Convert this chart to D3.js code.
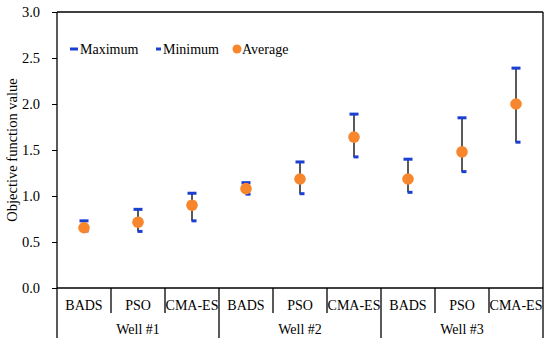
<!DOCTYPE html>
<html><head><meta charset="utf-8">
<script src="https://cdn.jsdelivr.net/npm/d3@7"></script>
<style>body{margin:0;background:#fff}svg{display:block}</style>
</head><body><svg id="c" width="550" height="348"></svg>
<script>
const wells = ["Well #1","Well #2","Well #3"];
const methods = ["BADS","PSO","CMA-ES"];
const maxVals = [0.73,0.855,1.03, 1.145,1.37,1.89, 1.40,1.85,2.39];
const minVals = [0.62,0.615,0.73, 1.02,1.025,1.425, 1.04,1.265,1.585];
const avgVals = [0.655,0.715,0.90, 1.08,1.185,1.64, 1.185,1.48,2.0];
const yTicks = [0,0.5,1,1.5,2,2.5,3];

const FONT = "Liberation Serif";
const svg = d3.select("#c");
const L=57, R=543, T=12, B=288;
const cats = [];
wells.forEach(w=>methods.forEach(m=>cats.push(w+"|"+m)));
const x = d3.scaleBand().domain(cats).range([L,R]);
const y = d3.scaleLinear().domain([0,3]).range([B,T]);
const blue="#1b3fd1", orange="#f7862c";

// y axis
const ya = svg.append("g").attr("transform",`translate(${L},0)`)
  .call(d3.axisLeft(y).tickValues(yTicks).tickFormat(d3.format(".1f")).tickSize(5).tickPadding(12));
ya.select(".domain").remove();
ya.selectAll("line").attr("stroke","#000");
ya.selectAll("text").attr("font-size",14.5).style("font-family",FONT).attr("fill","#000");

// frame
const frame = [[L,T,R,T],[L,B,R,B],[L,T,L,338],[R,T,R,338]];
frame.forEach(f=>svg.append("line").attr("x1",f[0]).attr("y1",f[1]).attr("x2",f[2]).attr("y2",f[3])
  .attr("stroke","#000").attr("stroke-width",1.3));

// category separators
cats.forEach((c,i)=>{
  if(i===0) return;
  const xx = x(c);
  const isGroup = i%3===0;
  svg.append("line").attr("x1",xx).attr("x2",xx).attr("y1",B).attr("y2",isGroup?338:313)
    .attr("stroke","#000").attr("stroke-width",1.3);
});
// category labels
cats.forEach((c,i)=>{
  svg.append("text").attr("x",x(c)+x.bandwidth()/2).attr("y",310).attr("text-anchor","middle")
    .attr("font-size",14).style("font-family",FONT).text(methods[i%3]);
});
wells.forEach((w,j)=>{
  const x0 = x(cats[j*3]), x1 = x(cats[j*3+2])+x.bandwidth();
  svg.append("text").attr("x",(x0+x1)/2).attr("y",334).attr("text-anchor","middle")
    .attr("font-size",14).style("font-family",FONT).text(w);
});

// y title
svg.append("text").attr("transform",`translate(17,${(T+B)/2}) rotate(-90)`).attr("text-anchor","middle")
  .attr("font-size",14.5).style("font-family",FONT).text("Objective function value");

// error bars
cats.forEach((c,i)=>{
  const cx = x(c)+x.bandwidth()/2;
  svg.append("line").attr("x1",cx).attr("x2",cx).attr("y1",y(maxVals[i])).attr("y2",y(minVals[i]))
    .attr("stroke","#222").attr("stroke-width",1.5);
  svg.append("line").attr("x1",cx-4.5).attr("x2",cx+4.5).attr("y1",y(maxVals[i])).attr("y2",y(maxVals[i]))
    .attr("stroke",blue).attr("stroke-width",3);
  svg.append("line").attr("x1",cx-0.5).attr("x2",cx+4.5).attr("y1",y(minVals[i])).attr("y2",y(minVals[i]))
    .attr("stroke",blue).attr("stroke-width",3);
  svg.append("circle").attr("cx",cx).attr("cy",y(avgVals[i])).attr("r",5.8).attr("fill",orange);
});

// legend
const ly=49;
svg.append("line").attr("x1",70).attr("x2",78).attr("y1",ly).attr("y2",ly).attr("stroke",blue).attr("stroke-width",3);
svg.append("text").attr("x",80).attr("y",ly+5).attr("font-size",14).style("font-family",FONT).text("Maximum");
svg.append("line").attr("x1",156).attr("x2",161).attr("y1",ly).attr("y2",ly).attr("stroke",blue).attr("stroke-width",3);
svg.append("text").attr("x",163).attr("y",ly+5).attr("font-size",14).style("font-family",FONT).text("Minimum");
svg.append("circle").attr("cx",237).attr("cy",ly).attr("r",4.5).attr("fill",orange);
svg.append("text").attr("x",242).attr("y",ly+5).attr("font-size",14).style("font-family",FONT).text("Average");
</script></body></html>
